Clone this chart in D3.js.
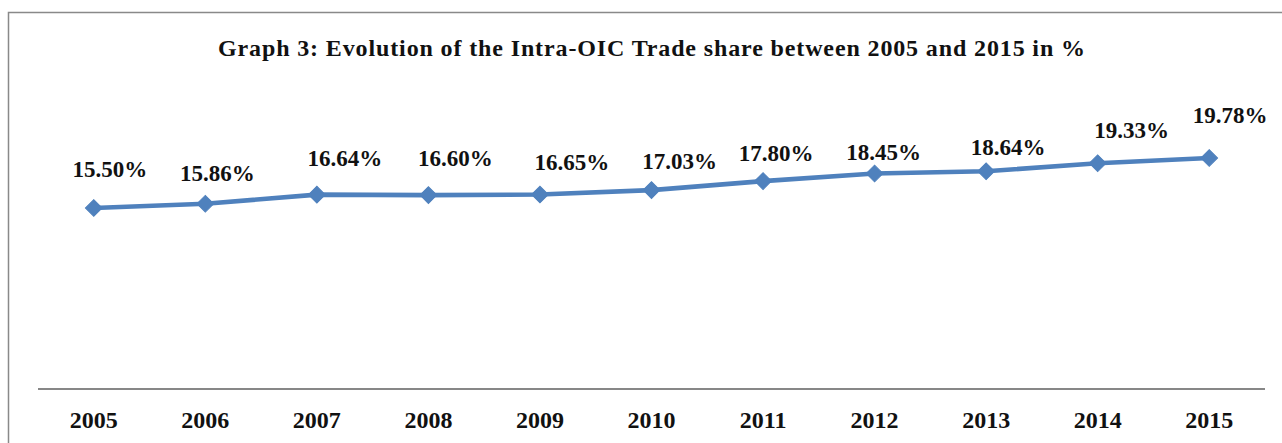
<!DOCTYPE html>
<html>
<head>
<meta charset="utf-8">
<script src="https://cdn.jsdelivr.net/npm/d3@7"></script>
<style>
  html, body { margin: 0; padding: 0; background: #fff; }
  svg { display: block; }
</style>
</head>
<body>
<svg id="chart" width="1282" height="443"></svg>
<script>
// ---- data ----
const title = "Graph 3: Evolution of the Intra-OIC Trade share between 2005 and 2015 in %";
const years = ["2005","2006","2007","2008","2009","2010","2011","2012","2013","2014","2015"];
const shares = [15.50, 15.86, 16.64, 16.60, 16.65, 17.03, 17.80, 18.45, 18.64, 19.33, 19.78];
const yDomain = [0, 25];

// ---- layout (label nudges as in the original manual placement) ----
const labelDx = [16, 12, 28, 27, 32, 28, 13, 9, 22, 34, 21];
const labelDy = [-39, -31, -37, -37, -33, -29, -28, -22, -24, -33, -43];

const svg = d3.select("#chart");
const W = 1282, H = 443;
const plot = { left: 38, right: 1265, top: 97, bottom: 389 };
const serif = "'Liberation Serif', 'DejaVu Serif', serif";
const blue = "#4F81BD";

// outer frame (right/bottom edges fall outside the picture)
svg.append("rect")
  .attr("x", 8.5).attr("y", 12.5)
  .attr("width", W + 20).attr("height", H + 20)
  .attr("fill", "none").attr("stroke", "#898989").attr("stroke-width", 1.5);

// title
svg.append("text")
  .attr("x", 218).attr("y", 56)
  .attr("text-anchor", "start")
  .attr("font-family", serif).attr("font-weight", "bold")
  .attr("font-size", 24).attr("fill", "#111")
  .attr("textLength", 867).attr("lengthAdjust", "spacing")
  .text(title);

const x = d3.scaleBand().domain(years).range([plot.left, plot.right]);
const y = d3.scaleLinear().domain(yDomain).range([plot.bottom, plot.top]);

// category axis
const xAxis = d3.axisBottom(x).tickSize(0).tickPadding(0);
const gx = svg.append("g").attr("transform", `translate(0,${plot.bottom})`).call(xAxis);
gx.select(".domain").attr("stroke", "#878787").attr("stroke-width", 1.8).attr("d", `M${plot.left},0H${plot.right}`);
gx.selectAll(".tick text")
  .attr("y", 39).attr("dy", 0)
  .attr("font-family", serif).attr("font-weight", "bold")
  .attr("font-size", 24).attr("fill", "#111");

const cx = d => x(d) + x.bandwidth() / 2;

// line
const line = d3.line().x((d, i) => cx(years[i])).y(d => y(d));
svg.append("path")
  .datum(shares)
  .attr("d", line)
  .attr("fill", "none")
  .attr("stroke", blue).attr("stroke-width", 4.6)
  .attr("stroke-linejoin", "round");

// diamond markers
svg.append("g").selectAll("path")
  .data(shares).join("path")
  .attr("transform", (d, i) => `translate(${cx(years[i])},${y(d)}) rotate(45)`)
  .attr("d", d3.symbol().type(d3.symbolSquare).size(140))
  .attr("fill", blue).attr("stroke", blue).attr("stroke-width", 1);

// data labels
svg.append("g").selectAll("text")
  .data(shares).join("text")
  .attr("x", (d, i) => cx(years[i]) + labelDx[i])
  .attr("y", (d, i) => y(d) + labelDy[i])
  .attr("dy", "0.35em")
  .attr("text-anchor", "middle")
  .attr("font-family", serif).attr("font-weight", "bold")
  .attr("font-size", 23).attr("fill", "#111")
  .text(d => d.toFixed(2) + "%");
</script>
</body>
</html>
